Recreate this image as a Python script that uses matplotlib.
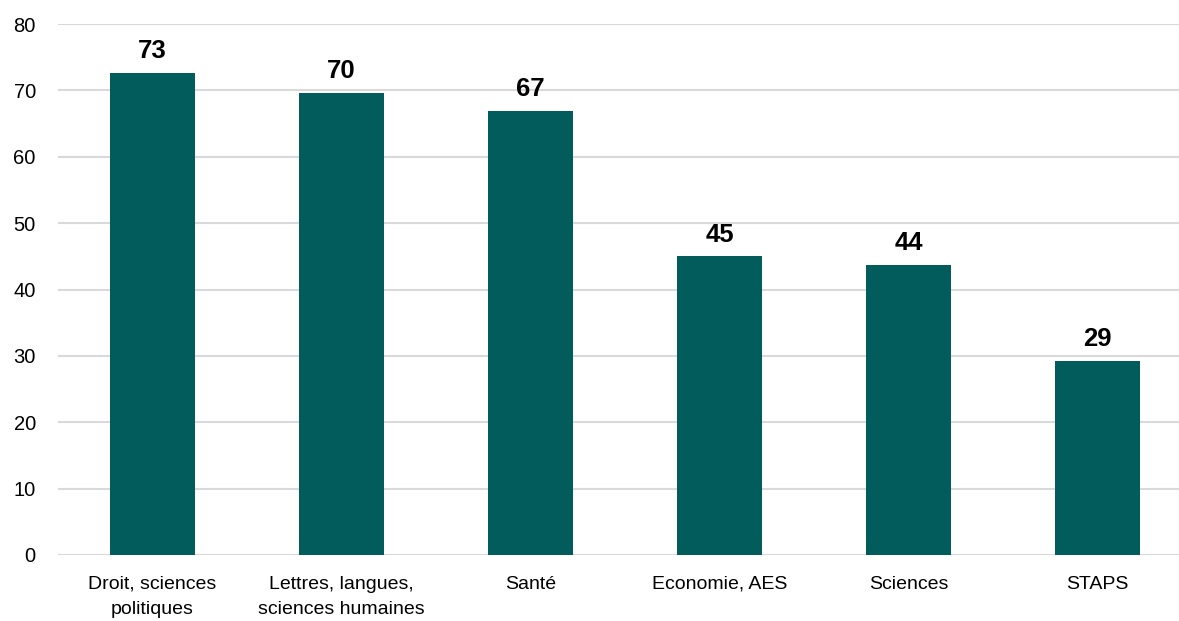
import matplotlib
matplotlib.use("Agg")
import matplotlib.pyplot as plt
from matplotlib import font_manager as fm

categories = ["Droit, sciences\npolitiques", "Lettres, langues,\nsciences humaines",
              "Santé", "Economie, AES", "Sciences", "STAPS"]
values = [72.6, 69.6, 66.9, 45.0, 43.7, 29.2]
value_labels = ["73", "70", "67", "45", "44", "29"]
yticks = [0, 10, 20, 30, 40, 50, 60, 70, 80]

names = {f.name for f in fm.fontManager.ttflist}
fam = "Liberation Sans Narrow" if "Liberation Sans Narrow" in names else "Liberation Sans"
plt.rcParams['font.family'] = [fam, 'DejaVu Sans']

fig = plt.figure(figsize=(11.79, 6.21), dpi=100)
ax = fig.add_axes([58/1179, 66/621, 1121/1179, 531/621])

x = list(range(len(categories)))
ax.bar(x, values, width=0.45, color="#025C5B", zorder=3)
for xi, v, lab in zip(x, values, value_labels):
    ax.annotate(lab, (xi, v), xytext=(0, 7), textcoords="offset points",
                ha="center", va="bottom", fontsize=18.5, fontweight="bold", color="black")

ax.set_xlim(-0.5, 5.43)
ax.set_ylim(0, 80)
ax.set_yticks(yticks)
ax.set_xticks(x)
ax.set_xticklabels(categories, fontsize=14, linespacing=1.6)
ax.tick_params(axis='y', labelsize=14.5, length=0, pad=16)
ax.tick_params(axis='x', length=0, pad=15)
ax.grid(axis='y', color="#D9D9D9", linewidth=1.5, zorder=0)
for s in ax.spines.values():
    s.set_visible(False)

fig.savefig("out.png", dpi=100)
